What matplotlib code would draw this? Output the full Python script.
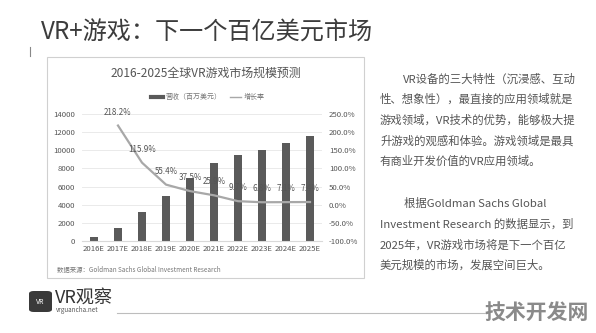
import numpy as np
import matplotlib.pyplot as plt
from matplotlib.patches import Rectangle, FancyBboxPatch
from matplotlib.lines import Line2D

plt.rcParams['font.family'] = ['Noto Sans CJK SC', 'DejaVu Sans']

years = ["2016E", "2017E", "2018E", "2019E", "2020E", "2021E", "2022E", "2023E", "2024E", "2025E"]
revenue = [420, 1470, 3150, 4950, 6900, 8600, 9450, 10050, 10780, 11600]
growth_years = years[1:]
growth = [218.2, 115.9, 55.4, 37.5, 25.9, 9.7, 6.8, 7.1, 7.4]
growth_labels = ["218.2%", "115.9%", "55.4%", "37.5%", "25.9%", "9.7%", "6.8%", "7.1%", "7.4%"]

paragraph1 = ["VR设备的三大特性（沉浸感、互动",
              "性、想象性），最直接的应用领域就是",
              "游戏领域，VR技术的优势，能够极大提",
              "升游戏的观感和体验。游戏领域是最具",
              "有商业开发价值的VR应用领域。"]
paragraph2 = ["根据Goldman Sachs Global",
              "Investment Research 的数据显示，到",
              "2025年，VR游戏市场将是下一个百亿",
              "美元规模的市场，发展空间巨大。"]

W, H = 596, 333
fig = plt.figure(figsize=(W / 100, H / 100), dpi=100)
fig.patch.set_facecolor("white")

def px(x, y):
    return x / W, 1 - y / H

# slide title
fig.text(*px(41, 33), "VR+游戏：下一个百亿美元市场", fontsize=17.4, color="#3c3c3c", va="center", ha="left")
fig.add_artist(Line2D([30 / W, 30 / W], [1 - 47 / H, 1 - 56 / H], color="#888888", lw=0.8))

# chart frame
fig.add_artist(Rectangle(px(47, 278), 317 / W, 221 / H, facecolor="white", edgecolor="#d0d0d0",
                         lw=0.8, zorder=-5))
fig.text(*px(206, 73), "2016-2025全球VR游戏市场规模预测", fontsize=8.6, color="#555555", ha="center", va="center")

ax = fig.add_axes([82 / W, (H - 241) / H, 240 / W, 127 / H])
ax.set_zorder(2)
ax.patch.set_visible(False)
x = np.arange(len(years))
bars = ax.bar(x, revenue, width=0.34, color="#5a5a5a", zorder=2)
ax.set_xlim(-0.5, len(years) - 0.5)
ax.set_ylim(0, 14000)
ax.set_yticks(np.arange(0, 14001, 2000))
ax.set_xticks(x)
ax.set_xticklabels(years)
ax.yaxis.grid(True, color="#e6e6e6", lw=0.6, zorder=0)
ax.set_axisbelow(True)
for s in ["top", "left", "right"]:
    ax.spines[s].set_visible(False)
ax.spines["bottom"].set_color("#d9d9d9")
ax.tick_params(axis="both", length=0, labelsize=5.6, labelcolor="#555555")
ax.tick_params(axis="y", pad=5)
ax.tick_params(axis="x", pad=3)

ax2 = ax.twinx()
ax2.set_zorder(3)
ax2.patch.set_visible(False)
ax2.set_ylim(-100, 250)
ax2.set_yticks(np.arange(-100, 251, 50))
ax2.set_yticklabels([f"{v:.1f}%" for v in np.arange(-100, 251, 50)])
ax2.tick_params(axis="y", length=0, labelsize=5.6, labelcolor="#555555", pad=5)
for s in ax2.spines.values():
    s.set_visible(False)
gx = [years.index(y) for y in growth_years]
line, = ax2.plot(gx, growth, color="#a8a8a8", lw=1.6, zorder=3, solid_joinstyle="round")
for xi, g, lab in zip(gx, growth, growth_labels):
    ax2.annotate(lab, (xi, g), xytext=(0, 6.5), textcoords="offset points",
                 ha="center", va="bottom", fontsize=5.8, color="#555555")

fig.legend([Line2D([], [], color="#5a5a5a", lw=3), Line2D([], [], color="#a8a8a8", lw=1)],
           ["营收（百万美元）", "增长率"], loc="center", bbox_to_anchor=px(208, 97),
           ncol=2, frameon=False, fontsize=5, labelcolor="#777777",
           handlelength=1.6, handletextpad=0.4, columnspacing=1.2)

fig.text(*px(57, 270), "数据来源：Goldman Sachs Global Investment Research", fontsize=4.6,
         color="#777777", ha="left", va="center")

# right text
for i, t in enumerate(paragraph1):
    fig.text(*px(403 if i == 0 else 380, 79 + i * 20.5), t, fontsize=8.2, color="#555555", va="center")
for i, t in enumerate(paragraph2):
    fig.text(*px(404 if i == 0 else 380, 204 + i * 20.5), t, fontsize=8.2, color="#555555", va="center")

# footer
fig.add_artist(FancyBboxPatch(px(29, 312), 23 / W, 21 / H, boxstyle="round,pad=0,rounding_size=0.008",
                              facecolor="#3a3a3a", edgecolor="none"))
fig.text(*px(40.5, 301.5), "VR", fontsize=5, color="white", ha="center", va="center", style="italic")
fig.text(*px(55, 298), "VR观察", fontsize=13, color="#333333", ha="left", va="center")
fig.text(*px(56, 310), "vrguancha.net", fontsize=4.5, color="#555555", ha="left", va="center")
fig.add_artist(Line2D([117 / W, 487 / W], [1 - 313 / H, 1 - 313 / H], color="#bdbdbd", lw=0.8))
fig.text(*px(537, 312), "技术开发网", fontsize=15, fontweight="bold", color="#8a8a8a", ha="center", va="center")

fig.savefig("out.png", dpi=100)
